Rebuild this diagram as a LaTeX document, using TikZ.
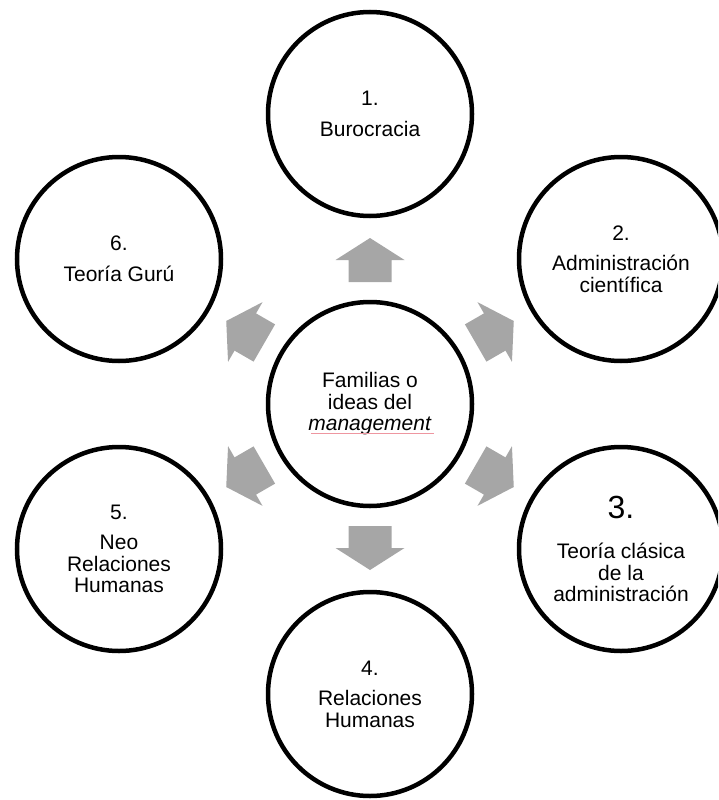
\documentclass[tikz,border=0pt]{standalone}
\usepackage{fontspec}
\setmainfont{Liberation Sans}
\usetikzlibrary{calc}
\definecolor{arrowgray}{RGB}{166,166,166}
\definecolor{spellpink}{RGB}{238,150,160}
\begin{document}
\begin{tikzpicture}[x=1pt,y=-1pt,
  idea/.style={circle, draw=black, line width=4.5pt, fill=white,
    minimum size=204pt, inner sep=0pt, align=center,
    font=\fontsize{21}{21.5}\selectfont},
  blockarrow/.style={fill=arrowgray, draw=none},
  spell/.style={draw=spellpink, line width=0.8pt}]
  \useasboundingbox (0,0) rectangle (718,800);
  \clip (0,0) rectangle (718,800);

  \coordinate (ctr) at (370,404);

  % block arrows pointing from the hub towards each family
  \foreach \ang in {90,30,-30,-90,-150,150} {
    \fill[blockarrow, shift={(ctr)}, rotate=\ang]
      (122,-21.5) -- (144,-21.5) -- (144,-34.5) -- (166,0)
      -- (144,34.5) -- (144,21.5) -- (122,21.5) -- cycle;
  }

  % hub
  \node[idea] (hub) at (ctr) {Familias o\\ideas del\\\textit{management}};
  \draw[spell] ($(hub.center)+(-59,29)$) coordinate (ul1)
    -- ($(hub.center)+(64,29)$) coordinate (ul2);

  % the six families
  \node[idea] (c1) at (370,114) {1.\\[9pt]Burocracia};
  \node[idea] (c2) at (621,259) {2.\\[9pt]Administración\\científica};
  \node[idea] (c3) at (621,549) {{\fontsize{32}{34}\selectfont 3.}\\[18.5pt]Teoría clásica\\de la\\administración};
  \node[idea] (c4) at (370,694) {4.\\[9pt]Relaciones\\Humanas};
  \node[idea] (c5) at (119,549) {5.\\[9pt]Neo\\Relaciones\\Humanas};
  \node[idea] (c6) at (119,259) {6.\\[9pt]Teoría Gurú};
\end{tikzpicture}
\end{document}
